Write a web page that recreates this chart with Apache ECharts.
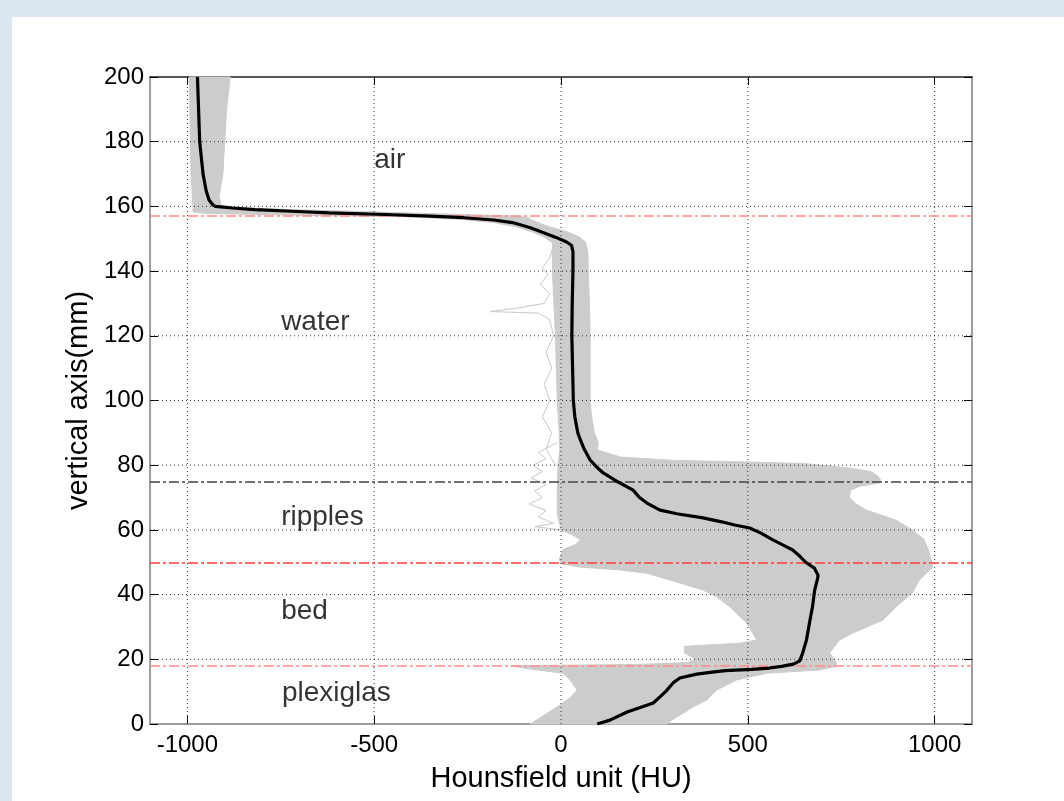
<!DOCTYPE html>
<html><head><meta charset="utf-8">
<script src="https://cdn.jsdelivr.net/npm/echarts@6/dist/echarts.min.js"></script>
<style>
html,body{margin:0;padding:0;background:#dce6f1;width:1064px;height:801px;overflow:hidden}
#c{position:absolute;left:12px;top:17px;width:1052px;height:784px;background:#fff}
</style></head><body><div id="c"></div>
<script>
// ---- data ----
const xTicks = [-1000, -500, 0, 500, 1000];
const yTicks = [0, 20, 40, 60, 80, 100, 120, 140, 160, 180, 200];

const meanDepth = [200,190,180,170,165,162,160.5,160,159.5,159,158.5,158,157.5,157,156.5,155.8,155,154,153.3,152,150.5,149,148,146,140,130,120,110,100,95,90,87.8,85,81.6,79.5,77.6,74.8,72.3,70,68.3,66.1,65,63.7,62.5,61.5,60.6,59,56.9,55,53.8,52,50,48.2,46,45.1,41.4,36.2,31.2,26,22,19.5,18.5,17.8,17.3,16.9,16.5,16.1,15.4,14.2,12.7,10,6.5,3.7,1.2,0];
const meanHU    = [-973,-970,-967,-958,-950,-942,-932,-925,-880,-820,-720,-620,-470,-350,-260,-180,-130,-100,-80,-50,-15,15,28,32,32,30,29,31,33,37,45,52,62,78,95,113,153,193,210,230,265,310,380,430,465,505,535,567,600,620,638,655,678,688,687,679,673,665,657,647,639,622,590,558,510,440,410,363,318,300,280,247,177,131,97];

const envLeftDepth = [0,2,5.3,8,10.5,13.6,15.7,16.7,17.5,18,18.4,19,20,22,24,25,26,31.2,36.2,39.3,41.4,44.5,46.6,47.6,48.5,49.5,51,54,55.5,57,58.5,60,65,70,80,85,90,100,120,140,148.7,150.5,152,153.7,155,156,156.8,157.3,157.8,158.3,160,170,200];
const envLeftHU    = [-82,-55,-10,24,43,24,6,-63,-110,-135,200,340,360,330,330,480,524,497,452,417,380,292,229,159,52,0,-5,6,40,52,30,0,-10,-10,-8,-3,-5,-10,-15,-23,-23,-45,-75,-120,-180,-270,-420,-700,-950,-985,-985,-990,-995];

const envRightDepth = [200,190,180,170,163,160.5,160,159.5,159,158.5,158,157.5,157,156.5,156,155,154,153,152,150.5,149,146,140,130,120,110,100,95,90,87,84.7,82.5,81.5,81,80.5,80,79,78,76.5,75.5,74.5,73.5,72.3,70,68,66.1,63,60,57,52.8,48.5,44.5,40.5,36.2,32.1,28.1,26,22,18.9,17.8,16.7,15.7,13.6,10.5,7.4,5.3,2.2,0];
const envRightHU    = [-885,-895,-900,-905,-915,-910,-890,-840,-720,-560,-420,-260,-120,-85,-85,-60,-40,-10,20,50,65,72,73,76,78,78,78,82,89,100,97,160,300,500,650,700,780,830,850,855,852,800,775,772,790,818,897,940,972,986,995,959,940,897,861,781,746,719,737,735,692,550,470,417,390,354,310,283];

const outlierADepth = [148,144,141,139,136,133,130,128.5,127.5,127,125,120,115,110,105,100,95,90,85,80];
const outlierAHU    = [-20,-30,-50,-35,-55,-30,-45,-120,-190,-60,-30,-20,-40,-25,-45,-30,-50,-25,-40,-15];
const outlierBDepth = [87,84,82,80,78,76,74,72,70,68,66,64,62,61,60];
const outlierBHU    = [-10,-60,-40,-75,-50,-80,-40,-70,-50,-85,-40,-60,-20,-70,0];

const boundaryDepth = [157, 75, 50, 18];

const regionNames = ['air', 'water', 'ripples', 'bed', 'plexiglas'];
const regionHU    = [-500, -749, -749, -749, -747];
const regionDepth = [174.3, 124.3, 63.8, 34.9, 9.6];

// ---- styles ----
const boundaryColors = ['#ff8a8a', '#444444', '#ff3b3b', '#ff8a8a'];
const FONT = '"Liberation Sans", Arial, sans-serif';

const zip = (a, b) => a.map((v, i) => [v, b[i]]);

const chart = echarts.init(document.getElementById('c'), null, {renderer: 'canvas'});

const axisCommon = {
  type: 'value', min: -1100, max: 1100
};

const option = {
  animation: false,
  backgroundColor: '#ffffff',
  grid: {left: 138, right: 92, top: 60, bottom: 77, containLabel: false},
  xAxis: [
    Object.assign({}, axisCommon, {
      position: 'bottom',
      name: 'Hounsfield unit (HU)', nameLocation: 'middle', nameGap: 40,
      nameTextStyle: {fontFamily: FONT, fontSize: 29, color: '#000'},
      axisLine: {show: true, onZero: false, lineStyle: {color: '#7f7f7f', width: 1.5}},
      axisTick: {show: true, inside: true, length: 8, customValues: xTicks, lineStyle: {color: '#000'}},
      axisLabel: {show: true, customValues: xTicks, formatter: v => String(v), fontFamily: FONT, fontSize: 24, color: '#000', margin: 9},
      splitLine: {show: false}
    }),
    Object.assign({}, axisCommon, {
      position: 'top',
      axisLine: {show: true, onZero: false, lineStyle: {color: '#222', width: 1.5}},
      axisTick: {show: true, inside: true, length: 8, customValues: xTicks, lineStyle: {color: '#000'}},
      axisLabel: {show: false},
      splitLine: {show: false}
    })
  ],
  yAxis: [
    {
      type: 'value', min: 0, max: 200, interval: 20, position: 'left',
      name: 'vertical axis(mm)', nameLocation: 'middle', nameGap: 52,
      nameTextStyle: {fontFamily: FONT, fontSize: 29, color: '#000'},
      axisLine: {show: true, onZero: false, lineStyle: {color: '#7f7f7f', width: 1.5}},
      axisTick: {show: true, inside: true, length: 8, lineStyle: {color: '#000'}},
      axisLabel: {show: true, fontFamily: FONT, fontSize: 24, color: '#000', margin: 6},
      splitLine: {show: false}
    },
    {
      type: 'value', min: 0, max: 200, interval: 20, position: 'right',
      axisLine: {show: true, onZero: false, lineStyle: {color: '#7f7f7f', width: 1.5}},
      axisTick: {show: true, inside: true, length: 8, lineStyle: {color: '#000'}},
      axisLabel: {show: false},
      splitLine: {show: false}
    }
  ],
  series: [
    // gray envelope of all profiles
    {
      type: 'custom', name: 'envelope', z: 1,
      xAxisIndex: 0, yAxisIndex: 0,
      data: [[0, 100]],
      encode: {x: 0, y: 1},
      renderItem: function (params, api) {
        const pts = [];
        for (let i = 0; i < envLeftDepth.length; i++) pts.push(api.coord([envLeftHU[i], envLeftDepth[i]]));
        for (let i = 0; i < envRightDepth.length; i++) pts.push(api.coord([envRightHU[i], envRightDepth[i]]));
        return {type: 'polygon', shape: {points: pts}, style: {fill: '#cccccc', stroke: '#cccccc', lineWidth: 1}};
      },
      silent: true
    },
    {
      type: 'line', name: 'outlierA', z: 2, data: zip(outlierAHU, outlierADepth),
      showSymbol: false, lineStyle: {color: '#c8c8c8', width: 1}, silent: true
    },
    {
      type: 'line', name: 'outlierB', z: 2, data: zip(outlierBHU, outlierBDepth),
      showSymbol: false, lineStyle: {color: '#c8c8c8', width: 1}, silent: true
    },
    // dotted grid drawn over the profiles
    {
      type: 'custom', name: 'vgrid', z: 3,
      data: xTicks.map(v => [v, 100]),
      encode: {x: 0, y: 1},
      renderItem: function (params, api) {
        const v = api.value(0);
        const a = api.coord([v, 0]), b = api.coord([v, 200]);
        return {type: 'line', shape: {x1: a[0], y1: a[1], x2: b[0], y2: b[1]},
          style: {stroke: '#333', lineWidth: 1, lineDash: [1, 3]}};
      },
      silent: true
    },
    {
      type: 'custom', name: 'hgrid', z: 3,
      data: yTicks.filter(v => v > 0 && v < 200).map(v => [0, v]),
      encode: {x: 0, y: 1},
      renderItem: function (params, api) {
        const v = api.value(1);
        const a = api.coord([-1100, v]), b = api.coord([1100, v]);
        return {type: 'line', shape: {x1: a[0], y1: a[1], x2: b[0], y2: b[1]},
          style: {stroke: '#333', lineWidth: 1, lineDash: [1, 3]}};
      },
      silent: true
    },
    // boundary lines
    {
      type: 'line', name: 'boundaries', z: 4, data: [],
      markLine: {
        symbol: 'none', silent: true, animation: false,
        label: {show: false},
        data: boundaryDepth.map((d, i) => ({yAxis: d, lineStyle: {color: boundaryColors[i], width: 1.5, type: [10, 3, 3, 3]}}))
      }
    },
    // mean profile
    {
      type: 'line', name: 'mean', z: 5, data: zip(meanHU, meanDepth),
      showSymbol: false, lineStyle: {color: '#000', width: 3.2}, silent: true
    },
    // region labels
    {
      type: 'scatter', name: 'regions', z: 6,
      data: regionNames.map((n, i) => ({value: [regionHU[i], regionDepth[i]], name: n})),
      symbolSize: 0,
      label: {show: true, position: 'right', distance: 0, formatter: p => p.name,
        fontFamily: FONT, fontSize: 28, color: '#000', align: 'left', verticalAlign: 'middle'},
      silent: true
    }
  ]
};
chart.setOption(option);
</script></body></html>
